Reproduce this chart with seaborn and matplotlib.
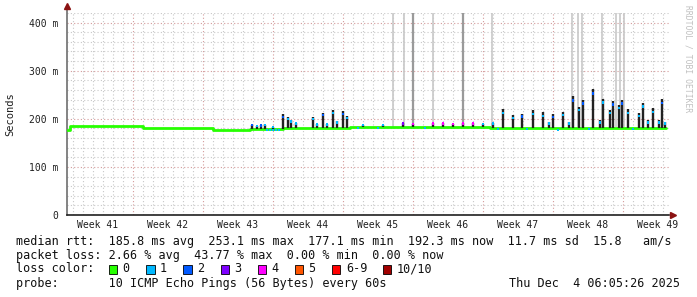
import matplotlib
matplotlib.use('Agg')
import matplotlib.pyplot as plt
import matplotlib.patches as mpatches
from matplotlib.ticker import MultipleLocator, FuncFormatter
from matplotlib.transforms import blended_transform_factory
import numpy as np
import pandas as pd
import seaborn as sns

# ---------------- data (ms, x in days since start of week 41) ----------------
week_labels = ["Week 41", "Week 42", "Week 43", "Week 44", "Week 45",
               "Week 46", "Week 47", "Week 48", "Week 49"]
y_ticks = [0, 100, 200, 300, 400]

# piecewise median baseline
base_start = [0.4, 0.7, 4.7, 8.0, 15.0, 18.7, 22.0, 28.7, 42.7]
base_end = [0.7, 4.7, 8.0, 15.0, 18.7, 22.0, 28.7, 42.7, 60.3]
base_ms = [177.0, 186.0, 185.0, 180.5, 177.5, 179.0, 181.0, 182.0, 180.0]

# low-loss stretches of the median (cyan) near the baseline
dip_day = [20.4, 20.7, 21.0, 21.3, 21.6, 29.5, 31.5, 36.2, 43.5, 46.4, 49.5, 52.6, 57.0]
dip_ms = [176, 176, 176, 176, 177, 181, 181, 181, 178, 178, 177, 178, 178]

# smoke spikes: day, smoke top, median at spike, loss count
spike_day = [18.9, 19.4, 19.8, 20.2, 21.0,
             22.0, 22.5, 22.8, 23.3, 25.0, 25.4, 26.0, 26.4, 27.0, 27.4, 28.0, 28.4,
             30.0, 32.0, 34.0, 35.0, 37.0, 38.0, 39.0, 40.0, 41.0, 42.0, 43.0,
             44.0, 45.0, 45.9, 47.0, 48.0, 48.6, 49.0, 50.0, 50.6, 51.0, 51.6, 52.0,
             53.0, 53.7, 54.0, 54.7, 55.0, 55.6, 55.9, 56.5, 57.6, 58.0, 58.5,
             59.0, 59.6, 59.9, 60.2]
spike_top = [188, 186, 187, 188, 184,
             209, 204, 198, 192, 204, 190, 213, 190, 219, 196, 216, 206,
             187, 187, 191, 190, 191, 191, 190, 191, 191, 190, 191,
             220, 208, 211, 218, 214, 194, 211, 215, 194, 247, 225, 240,
             261, 198, 242, 219, 238, 229, 240, 220, 213, 233, 198,
             222, 198, 241, 194]
spike_med = [187, 185, 186, 187, 183,
             204, 200, 194, 190, 200, 188, 208, 188, 212, 192, 210, 202,
             187, 187, 190, 189, 190, 190, 189, 190, 190, 189, 190,
             212, 202, 205, 210, 206, 190, 204, 208, 190, 238, 218, 232,
             253, 192, 234, 212, 230, 222, 232, 212, 206, 226, 192,
             214, 192, 233, 190]
spike_loss = [2, 1, 2, 1, 1,
              2, 1, 1, 1, 1, 1, 2, 1, 1, 1, 2, 1,
              1, 1, 3, 4, 4, 4, 4, 4, 4, 1, 1,
              1, 1, 2, 1, 1, 1, 2, 1, 1, 2, 1, 2,
              2, 1, 1, 1, 2, 1, 2, 1, 1, 1, 1,
              1, 1, 2, 1]

# far outliers running off the top of the graph
out_day = [33.0, 34.1, 35.0, 37.0, 40.0, 42.9, 50.9, 51.5, 51.9, 53.9, 55.3, 55.7, 56.1]
out_low = [183, 183, 182, 183, 182, 183, 182, 182, 182, 182, 182, 182, 182]
out_dense = [0, 0, 1, 0, 1, 0, 0, 0, 0, 0, 0, 0, 0]

loss_names = ["0", "1", "2", "3", "4", "5", "6-9", "10/10"]
loss_colors = ["#26ff00", "#00b8ff", "#0059ff", "#7e00ff",
               "#ff00ff", "#ff5500", "#ff0000", "#a10000"]

stats_line = ("median rtt:  185.8 ms avg  253.1 ms max  177.1 ms min  "
              "192.3 ms now  11.7 ms sd  15.8   am/s")
loss_line = "packet loss: 2.66 % avg  43.77 % max  0.00 % min  0.00 % now"
probe_line = "probe:       10 ICMP Echo Pings (56 Bytes) every 60s"
date_text = "Thu Dec  4 06:05:26 2025"

# ---------------- figure ----------------
sns.set_style('white')
plt.rcParams['font.family'] = ['DejaVu Sans Mono', 'DejaVu Sans']

W, H = 697, 297
fig = plt.figure(figsize=(W / 100, H / 100), dpi=100)
fig.patch.set_facecolor('white')
ax = fig.add_axes([67 / W, 82 / H, 602 / W, 202 / H])


def fx(px):
    return px / W


def fy(py):
    return 1 - py / H


ax.set_xlim(0.4, 60.6)
ax.set_ylim(0, 420)

# grid
ax.xaxis.set_major_locator(MultipleLocator(7))
ax.xaxis.set_minor_locator(MultipleLocator(1))
ax.yaxis.set_major_locator(MultipleLocator(100))
ax.yaxis.set_minor_locator(MultipleLocator(20))
ax.grid(which='minor', color='#c8c8c8', linestyle=(0, (1, 2)), linewidth=0.8)
ax.grid(which='major', color='#d49a9a', linestyle=(0, (1, 2)), linewidth=0.8)
ax.set_axisbelow(True)

# outliers (light smoke)
out_df = pd.DataFrame({'day': out_day, 'low': out_low, 'dense': out_dense})
for dense in (0, 1):
    sub = out_df[out_df['dense'] == dense]
    ax.vlines(sub['day'], sub['low'], 430,
              color='#c8c8c8' if dense == 0 else '#9a9a9a',
              linewidth=1.2 if dense == 0 else 1.6, zorder=2)

# baseline median
bx, by = [], []
for s, e, v in zip(base_start, base_end, base_ms):
    bx += [s, e]
    by += [v, v]
base_df = pd.DataFrame({'day': bx, 'ms': by})
sns.lineplot(data=base_df, x='day', y='ms', sort=False, estimator=None,
             color=loss_colors[0], linewidth=2.0, ax=ax, zorder=3)

# cyan low-loss bits on the median
dip_df = pd.DataFrame({'day': dip_day, 'ms': dip_ms})
sns.scatterplot(data=dip_df, x='day', y='ms', color=loss_colors[1], marker='s',
                s=4, linewidth=0, legend=False, ax=ax, zorder=3)

# dark smoke at spikes
spk = pd.DataFrame({'day': spike_day, 'top': spike_top,
                    'med': spike_med, 'loss': spike_loss})


def base_at(d):
    for s, e, v in zip(base_start, base_end, base_ms):
        if s <= d <= e:
            return v
    return base_ms[-1]


spk['base'] = [base_at(d) for d in spk['day']]
ax.vlines(spk['day'], spk['base'], spk['top'], color='#222222',
          linewidth=1.7, zorder=4)

# colored median at spikes
spk['loss_name'] = [loss_names[i] for i in spk['loss']]
pal = {loss_names[i]: loss_colors[i] for i in range(len(loss_names))}
sns.scatterplot(data=spk, x='day', y='med', hue='loss_name', palette=pal,
                marker='s', s=3, linewidth=0, legend=False, ax=ax, zorder=5)

# axes styling
for side in ('top', 'right'):
    ax.spines[side].set_visible(False)
ax.spines['left'].set_color('#6e6e6e')
ax.spines['bottom'].set_color('#202020')
ax.spines['left'].set_linewidth(1.2)
ax.spines['bottom'].set_linewidth(1.2)
ax.spines['left'].set_bounds(0, 432)
ax.set_xlabel('')
ax.set_ylabel('')
ax.set_yticks(y_ticks)
ax.yaxis.set_major_formatter(FuncFormatter(lambda v, p: '0' if v == 0 else f'{int(v)} m'))
ax.tick_params(axis='y', which='major', direction='inout', length=4, width=0.8,
               color='#555555', labelsize=7, pad=4, labelcolor='#202020')
ax.tick_params(axis='y', which='minor', direction='inout', length=2, width=0.6,
               color='#555555')
ax.tick_params(axis='x', which='major', direction='inout', length=4, width=0.8,
               color='#555555', labelbottom=False)
ax.tick_params(axis='x', which='minor', direction='inout', length=2, width=0.6,
               color='#555555')

# arrows
ax.plot([0.4], [434], marker='^', color='#8b1212', markersize=4, clip_on=False, zorder=6)
ax.plot([61.0], [0], marker='>', color='#8b1212', markersize=4, clip_on=False, zorder=6)

# week labels
tr = blended_transform_factory(ax.transData, ax.transAxes)
for k, lab in enumerate(week_labels):
    ax.text(3.5 + 7 * k, -10 / 202, lab, transform=tr, ha='center', va='center',
            fontsize=7, color='#202020')

# y axis title and watermark
fig.text(fx(10), fy(114), 'Seconds', rotation=90, ha='center', va='center',
         fontsize=7.5, color='#202020')
fig.text(fx(688), fy(5), 'RRDTOOL / TOBI OETIKER', rotation=-90, ha='center',
         va='top', fontsize=5.8, color='#c0c0c0')

# legend text
fs = 8.5
fig.text(fx(16), fy(241), stats_line, ha='left', va='center', fontsize=fs, color='#101010')
fig.text(fx(16), fy(255.5), loss_line, ha='left', va='center', fontsize=fs, color='#101010')
fig.text(fx(16), fy(269), 'loss color:', ha='left', va='center', fontsize=fs, color='#101010')
fig.text(fx(16), fy(283.5), probe_line, ha='left', va='center', fontsize=fs, color='#101010')
fig.text(fx(680), fy(283.5), date_text, ha='right', va='center', fontsize=fs, color='#101010')

box_x = [108.5, 146, 183.5, 220.5, 257.5, 294.5, 331.5, 383]
lab_x = [122.5, 160, 197, 234.5, 271, 308, 346, 397]
for i in range(len(loss_names)):
    fig.patches.append(mpatches.Rectangle((fx(box_x[i]), fy(273.5)), 8.5 / W, 9 / H,
                                          transform=fig.transFigure,
                                          facecolor=loss_colors[i], edgecolor='#000000',
                                          linewidth=0.6))
    fig.text(fx(lab_x[i]), fy(269), loss_names[i], ha='left', va='center',
             fontsize=fs, color='#101010')

fig.savefig('out.png', dpi=100, facecolor='white')
